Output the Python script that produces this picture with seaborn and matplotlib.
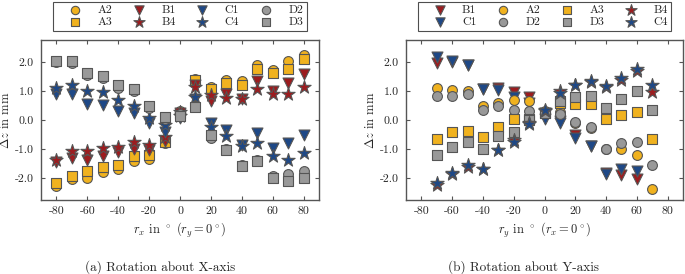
import numpy as np
import pandas as pd
import matplotlib
matplotlib.use('Agg')
import matplotlib.pyplot as plt
import seaborn as sns

#------------------------------------------
# rotation about X-axis (r_y = 0)
rx = [-80, -70, -60, -50, -40, -30, -20, -10, 0, 10, 20, 30, 40, 50, 60, 70, 80]
x_A2 = [-2.27, -2.04, -1.99, -1.79, -1.70, -1.42, -1.33, -0.80, 0.30, 1.42, 1.12, 1.39, 1.34, 1.90, 1.73, 2.02, 2.25]
x_A3 = [-2.18, -1.91, -1.76, -1.62, -1.53, -1.25, -1.22, -0.75, 0.25, 1.36, 1.08, 1.27, 1.22, 1.77, 1.62, 1.77, 2.08]
x_B1 = [-1.45, -1.30, -1.36, -1.25, -1.11, -0.99, -1.02, -0.72, 0.25, 1.21, 0.67, 0.90, 0.72, 1.34, 0.99, 1.28, 1.59]
x_B4 = [-1.36, -1.07, -1.07, -0.96, -0.93, -0.75, -0.85, -0.60, 0.28, 1.13, 0.87, 0.76, 0.71, 1.05, 0.90, 0.88, 1.13]
x_C1 = [0.90, 0.88, 0.56, 0.53, 0.31, 0.25, -0.09, -0.40, 0.08, 0.72, -0.12, -0.33, -0.85, -0.45, -0.96, -0.79, -0.50]
x_C4 = [1.10, 1.22, 0.99, 0.96, 0.70, 0.48, 0.08, -0.18, 0.15, 0.80, -0.25, -0.56, -0.90, -0.79, -1.25, -1.36, -1.13]
x_D2 = [2.00, 1.96, 1.54, 1.43, 1.10, 1.01, 0.40, 0.05, 0.22, 0.49, -0.62, -1.00, -1.53, -1.36, -1.91, -1.87, -1.76]
x_D3 = [2.02, 2.02, 1.62, 1.51, 1.22, 1.08, 0.48, 0.12, 0.15, 0.45, -0.50, -1.02, -1.59, -1.42, -1.99, -2.10, -1.99]

# rotation about Y-axis (r_x = 0)
ry = [-70, -60, -50, -40, -30, -20, -10, 0, 10, 20, 30, 40, 50, 60, 70]
y_B1 = [1.97, 2.00, 1.88, 1.05, 1.10, 0.97, 0.78, 0.25, -0.05, -0.50, -0.88, -1.82, -1.90, -2.02, np.nan]
y_C1 = [2.16, 2.03, 1.89, 1.06, 1.04, 0.80, 0.60, 0.02, -0.09, -0.62, -0.90, -1.87, -1.70, -1.76, np.nan]
y_A2 = [1.10, 1.04, 1.00, 0.49, 0.58, 0.68, 0.65, 0.30, 0.29, -0.12, -0.27, -1.00, -0.99, -1.22, -2.36]
y_D2 = [0.84, 0.84, 0.89, 0.35, 0.47, 0.35, 0.30, 0.25, 0.22, -0.08, -0.24, -0.98, -0.79, -0.75, -1.53]
y_A3 = [-0.65, -0.42, -0.39, -0.58, -0.24, 0.02, 0.05, 0.25, 0.60, 0.56, 0.56, 0.02, 0.17, 0.26, -0.67]
y_D3 = [-1.22, -0.92, -0.77, -0.99, -0.56, -0.42, 0.00, 0.25, 0.67, 0.79, 0.82, 0.40, 0.73, 0.99, 0.36]
y_B4 = [-2.25, -1.87, -1.60, -1.67, -1.04, -0.70, -0.10, 0.30, 1.01, 1.20, 1.32, 1.15, 1.36, 1.70, 0.97]
y_C4 = [-2.18, -1.82, -1.53, -1.67, -1.04, -0.77, -0.15, 0.36, 0.93, 1.22, 1.34, 1.16, 1.43, 1.77, 1.22]

yticks = [-2.0, -1.0, 0.0, 1.0, 2.0]
ytick_labels = ['-2.0', '-1.0', '0.0', '1.0', '2.0']
xticks = [-80, -60, -40, -20, 0, 20, 40, 60, 80]
xtick_labels = ['-80', '-60', '-40', '-20', '0', '20', '40', '60', '80']

#------------------------------------------
c_yel = '#f0b21f'
c_red = '#9c1c1f'
c_blu = '#1e4886'
c_gry = '#999999'

sty = {
    'A2': ('o', c_yel, 50), 'A3': ('s', c_yel, 42),
    'B1': ('v', c_red, 62), 'B4': ('*', c_red, 100),
    'C1': ('v', c_blu, 62), 'C4': ('*', c_blu, 100),
    'D2': ('o', c_gry, 50), 'D3': ('s', c_gry, 42),
}

sns.set_style('ticks', {'xtick.direction': 'in', 'ytick.direction': 'in'})
plt.rcParams['font.family'] = ['cmr10', 'DejaVu Serif']
plt.rcParams['mathtext.fontset'] = 'cm'
plt.rcParams['axes.unicode_minus'] = False
plt.rcParams['axes.edgecolor'] = '#555555'
plt.rcParams['axes.linewidth'] = 1.0

fig = plt.figure(figsize=(6.85, 2.74), dpi=100)
ax1 = fig.add_axes([41/685, 1-200/274, 278/685, 160/274])
ax2 = fig.add_axes([406/685, 1-200/274, 277/685, 160/274])


def plt_panel(ax, xs, series, xlabel):
    for name, vals in series:
        mk, col, s = sty[name]
        sns.scatterplot(x=xs, y=vals, ax=ax, marker=mk, color=col, s=s,
                        edgecolor='#555555', linewidth=0.8, label=name, zorder=3)
    ax.set_xlim(-90, 90)
    ax.set_ylim(-2.75, 2.75)
    ax.set_xticks(xticks)
    ax.set_xticklabels(xtick_labels)
    ax.set_yticks(yticks)
    ax.set_yticklabels(ytick_labels)
    ax.tick_params(axis='both', which='major', direction='in', top=True, right=True,
                   labelsize=8.5, length=3, width=0.8, color='#555555', pad=5)
    ax.set_xlabel(xlabel, fontsize=9, labelpad=3)
    ax.set_ylabel(r'$\Delta z$ in mm', fontsize=9, labelpad=2)
    leg = ax.legend(ncol=4, loc='lower center', bbox_to_anchor=(0.5, 1.056),
                    fontsize=8.5, frameon=True, fancybox=False, edgecolor='#222222',
                    handletextpad=0.35, columnspacing=0.7, labelspacing=0.15,
                    borderpad=0.3, borderaxespad=0.0, handlelength=3.1,
                    markerscale=0.85)
    leg.get_frame().set_linewidth(0.8)
    for sp in ax.spines.values():
        sp.set_visible(True)


plt_panel(ax1, rx, [('A2', x_A2), ('A3', x_A3), ('B1', x_B1), ('B4', x_B4),
                    ('C1', x_C1), ('C4', x_C4), ('D2', x_D2), ('D3', x_D3)],
          r'$r_x$ in $^\circ$ ($r_y = 0^\circ$)')
plt_panel(ax2, ry, [('B1', y_B1), ('C1', y_C1), ('A2', y_A2), ('D2', y_D2),
                    ('A3', y_A3), ('D3', y_D3), ('B4', y_B4), ('C4', y_C4)],
          r'$r_y$ in $^\circ$ ($r_x = 0^\circ$)')

fig.text(160/685, 1-267/274, '(a) Rotation about X-axis', ha='center', va='center', fontsize=9.5)
fig.text(524/685, 1-267/274, '(b) Rotation about Y-axis', ha='center', va='center', fontsize=9.5)

plt.savefig('out.png', dpi=100)
plt.close()
